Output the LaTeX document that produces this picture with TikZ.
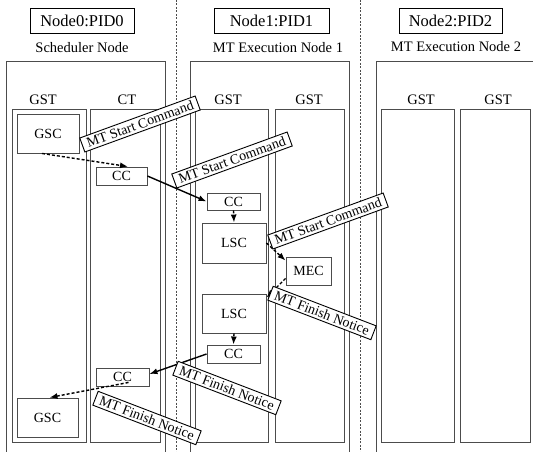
\documentclass[tikz,border=0pt]{standalone}
\usepackage{fontspec}
\setmainfont{Liberation Serif}
\usetikzlibrary{arrows.meta,calc}
\tikzset{
  divider/.style={black!70,line width=0.6pt,dash pattern=on 2pt off 1.5pt},
  panel/.style={black!70,line width=0.9pt},
  titlebox/.style={draw,line width=0.9pt,minimum width=#1,minimum height=25pt,font=\fontsize{16.5}{18}\selectfont},
  sub/.style={font=\fontsize{14.5}{16}\selectfont},
  colname/.style={font=\fontsize{14.5}{16}\selectfont},
  unit/.style 2 args={draw=black!70,line width=0.9pt,minimum width=#1,minimum height=#2,inner sep=0pt,font=\fontsize{14}{15}\selectfont},
  tag/.style={draw,fill=white,line width=0.9pt,rotate=#1,inner xsep=5pt,inner ysep=2.5pt,font=\fontsize{14}{15}\selectfont},
  msg/.style={-{Latex[length=8pt,width=6pt]},line width=1.4pt},
  local/.style={msg,dash pattern=on 3pt off 2pt},
}
\begin{document}
\begin{tikzpicture}[x=1pt,y=-1pt]
\useasboundingbox (0,0) rectangle (533,452);
\draw[divider] (176,0) -- (176,452);
\draw[divider] (360,0) -- (360,452);
\node[titlebox=104pt] (pid0) at (82,20.5) {Node0:PID0};
\node[titlebox=115pt] (pid1) at (271.5,20.5) {Node1:PID1};
\node[titlebox=103pt] (pid2) at (450.5,20.5) {Node2:PID2};
\node[sub] (sched) at (82,48) {Scheduler Node};
\node[sub] (exec1) at (278,48) {MT Execution Node 1};
\node[sub] (exec2) at (456,47) {MT Execution Node 2};
\draw[panel] (6,452) |- (165,61) -- (165,452);
\draw[panel] (190,452) |- (349,61) -- (349,452);
\draw[panel] (376,452) |- (533,61);
\draw[panel] (12,109) rectangle (86,442);
\draw[panel] (90,109) rectangle (160,442);
\draw[panel] (195,109) rectangle (268,442);
\draw[panel] (275,109) rectangle (344,442);
\draw[panel] (381,109) rectangle (454,442);
\draw[panel] (460,109) rectangle (530,442);
\node[colname] (gst0) at (43,100) {GST};
\node[colname] (ct0) at (127,100) {CT};
\node[colname] (gst1) at (228,100) {GST};
\node[colname] (gst2) at (309,100) {GST};
\node[colname] (gst3) at (421,100) {GST};
\node[colname] (gst4) at (498,100) {GST};
\node[unit={62pt}{39pt}] (gscA) at (48,133.5) {GSC};
\node[unit={51pt}{18pt}] (ccA) at (121.5,176) {CC};
\node[unit={53pt}{17pt}] (ccB) at (233.5,201.5) {CC};
\node[unit={64pt}{40pt}] (lscA) at (234,243) {LSC};
\node[unit={45pt}{28pt}] (mec) at (308.5,271) {MEC};
\node[unit={64pt}{39pt}] (lscB) at (234,313.5) {LSC};
\node[unit={53pt}{18pt}] (ccC) at (233.5,354) {CC};
\node[unit={53pt}{18pt}] (ccD) at (122.5,377) {CC};
\node[unit={61pt}{39pt}] (gscB) at (47.5,417.5) {GSC};
\draw[local] ($(gscA.south)+(-6,0)$) -- ($(ccA.north)+(6.5,0)$);
\draw[msg] (ccA.east) -- (ccB.west);
\draw[local] (ccB.south) -- (lscA.north);
\draw[local] (lscA.east) -- ($(mec.north west)+(0,4)$);
\draw[local] ($(mec.south west)+(0,-7)$) -- ($(lscB.north east)+(0,4)$);
\draw[local] (lscB.south) -- (ccC.north);
\draw[msg] (ccC.west) -- ($(ccD.east)+(0,-3)$);
\draw[local] ($(ccD.south)+(6,-4)$) -- ($(gscB.north)+(2,0)$);
\node[tag=20] (startA) at (140,124) {MT Start Command};
\node[tag=20] (startB) at (232,160) {MT Start Command};
\node[tag=20] (startC) at (328,221) {MT Start Command};
\node[tag=-21] (finishA) at (322,313) {MT Finish Notice};
\node[tag=-21] (finishB) at (227,388) {MT Finish Notice};
\node[tag=-21] (finishC) at (147,418) {MT Finish Notice};
\end{tikzpicture}
\end{document}
